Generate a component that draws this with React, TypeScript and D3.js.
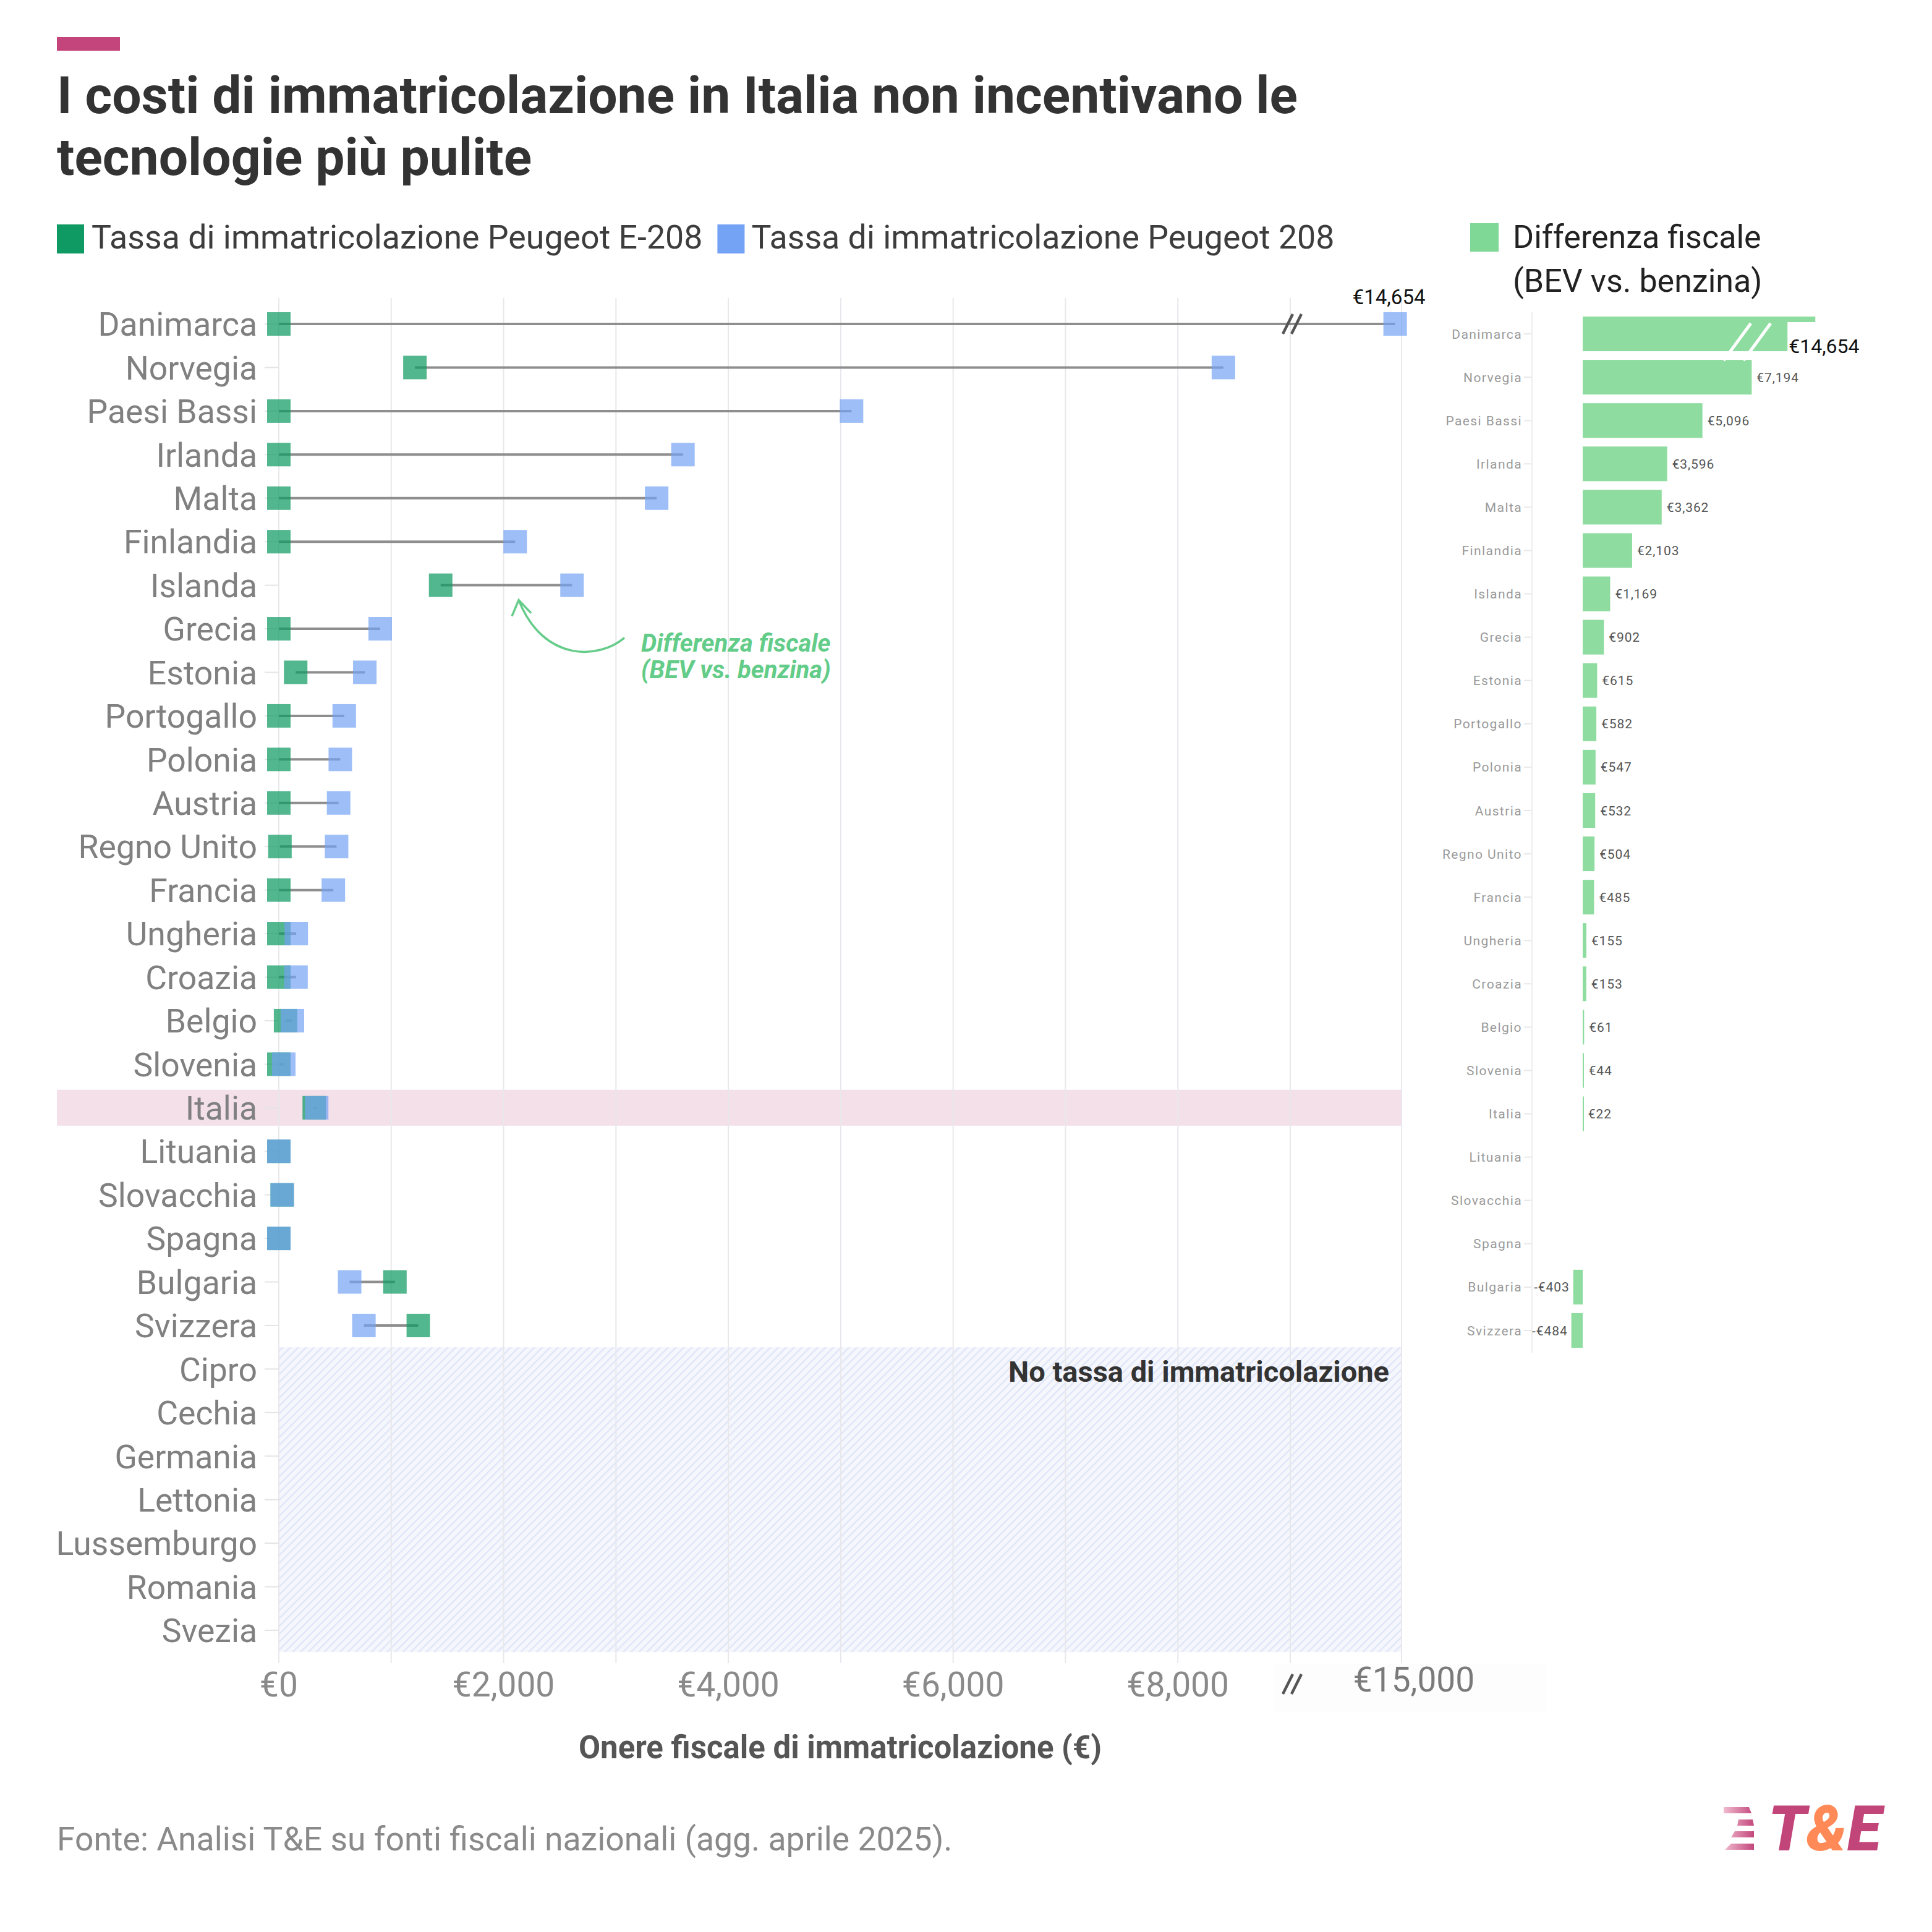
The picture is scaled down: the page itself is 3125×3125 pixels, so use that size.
import { useRef, useEffect } from 'react';
import * as d3 from 'd3';

// rows of the dumbbell chart, top to bottom
const countries = [
  'Danimarca', 'Norvegia', 'Paesi Bassi', 'Irlanda', 'Malta', 'Finlandia', 'Islanda',
  'Grecia', 'Estonia', 'Portogallo', 'Polonia', 'Austria', 'Regno Unito', 'Francia',
  'Ungheria', 'Croazia', 'Belgio', 'Slovenia', 'Italia', 'Lituania', 'Slovacchia',
  'Spagna', 'Bulgaria', 'Svizzera', 'Cipro', 'Cechia', 'Germania', 'Lettonia',
  'Lussemburgo', 'Romania', 'Svezia',
];

// registration tax, Peugeot E-208 (null = no registration tax)
const bevTax = [
  0, 1211, 0, 0, 0, 0, 1440, 0, 150, 0, 0, 0, 10, 0, 0, 0, 60, 0, 315, 0, 30, 0, 1033, 1241,
  null, null, null, null, null, null, null,
];

// registration tax, Peugeot 208
const iceTax = [
  14654, 8405, 5096, 3596, 3362, 2103, 2609, 902, 765, 582, 547, 532, 514, 485, 155, 153, 121,
  44, 337, 0, 30, 0, 630, 757, null, null, null, null, null, null, null,
];

// right panel: fiscal difference (BEV vs petrol)
const diffCountries = countries.slice(0, 24);
const diffValues = [
  14654, 7194, 5096, 3596, 3362, 2103, 1169, 902, 615, 582, 547, 532, 504, 485, 155, 153, 61,
  44, 22, 0, 0, 0, -403, -484,
];

const xGrid = [0, 1000, 2000, 3000, 4000, 5000, 6000, 7000, 8000, 9000, 15000];
const xTicks = [0, 2000, 4000, 6000, 8000, 15000];

const FONT = 'Roboto, sans-serif';
const GREEN = '#0f9a63';
const BLUE = '#74a2f4';
const DIFF = '#8fdca0';

export default function App() {
  const svgRef = useRef<SVGSVGElement>(null);

  useEffect(() => {
    if (!svgRef.current) return;
    const svg = d3.select(svgRef.current);
    svg.selectAll('*').remove();

    svg.append('rect').attr('width', 3125).attr('height', 3125).attr('fill', '#fff');

    const defs = svg.append('defs');
    const hatch = defs
      .append('pattern')
      .attr('id', 'hatch')
      .attr('patternUnits', 'userSpaceOnUse')
      .attr('width', 9)
      .attr('height', 9)
      .attr('patternTransform', 'rotate(45)');
    hatch.append('rect').attr('width', 9).attr('height', 9).attr('fill', '#f5f7fd');
    hatch
      .append('line')
      .attr('x1', 1).attr('y1', 0).attr('x2', 1).attr('y2', 9)
      .attr('stroke', '#e0e6f7').attr('stroke-width', 3);

    const grad = defs
      .append('linearGradient')
      .attr('id', 'logoGrad')
      .attr('gradientUnits', 'userSpaceOnUse')
      .attr('x1', 2786).attr('x2', 2838).attr('y1', 0).attr('y2', 0);
    grad.append('stop').attr('offset', '0%').attr('stop-color', '#f3c0d3');
    grad.append('stop').attr('offset', '100%').attr('stop-color', '#c2457a');

    // Header
    svg.append('rect').attr('x', 92).attr('y', 60).attr('width', 102).attr('height', 22).attr('fill', '#c4457b');
    const title = svg
      .append('text')
      .attr('font-family', FONT)
      .attr('font-weight', 700)
      .attr('font-size', 84)
      .attr('fill', '#333');
    title.append('tspan').attr('x', 92).attr('y', 183).text('I costi di immatricolazione in Italia non incentivano le');
    title.append('tspan').attr('x', 92).attr('y', 283).text('tecnologie più pulite');

    // Legend
    svg.append('rect').attr('x', 92).attr('y', 363).attr('width', 44).attr('height', 47).attr('fill', GREEN);
    const leg1 = svg
      .append('text')
      .attr('x', 148).attr('y', 402)
      .attr('font-family', FONT).attr('font-size', 53.7).attr('fill', '#3d3d3d')
      .text('Tassa di immatricolazione Peugeot E-208');
    const leg1End = 148 + (leg1.node() as SVGTextElement).getComputedTextLength();
    svg.append('rect').attr('x', leg1End + 24).attr('y', 363).attr('width', 44).attr('height', 47).attr('fill', BLUE);
    svg
      .append('text')
      .attr('x', leg1End + 79).attr('y', 402)
      .attr('font-family', FONT).attr('font-size', 53.7).attr('fill', '#3d3d3d')
      .text('Tassa di immatricolazione Peugeot 208');

    svg.append('rect').attr('x', 2378).attr('y', 361).attr('width', 46).attr('height', 46).attr('fill', '#7fd895');
    const leg3 = svg.append('text').attr('font-family', FONT).attr('font-size', 52).attr('fill', '#222');
    leg3.append('tspan').attr('x', 2447).attr('y', 401).text('Differenza fiscale');
    leg3.append('tspan').attr('x', 2447).attr('y', 472).text('(BEV vs. benzina)');

    // ---------- Dumbbell chart ----------
    const x = d3.scaleLinear().domain([0, 9000, 15000]).range([451, 2087, 2267]);
    const y = d3.scaleBand<string>().domain(countries).range([488.8, 2672.2]);
    const cy = (c: string) => y(c)! + y.bandwidth() / 2;
    const rows = countries.map((c, i) => ({ c, bev: bevTax[i], ice: iceTax[i] }));
    const taxed = rows.filter((d) => d.bev !== null && d.ice !== null) as {
      c: string; bev: number; ice: number;
    }[];
    const untaxed = rows.filter((d) => d.bev === null);

    const g = svg.append('g');

    // Italia highlight
    g.append('rect')
      .attr('x', 92).attr('y', cy('Italia') - 29)
      .attr('width', x(15000) - 92).attr('height', 58)
      .attr('fill', '#f4e0e9');

    // No-tax hatched area
    const hatchTop = y(untaxed[0].c)!;
    g.append('rect')
      .attr('x', x(0)).attr('y', hatchTop)
      .attr('width', x(15000) - x(0)).attr('height', y.range()[1] - hatchTop)
      .attr('fill', 'url(#hatch)');

    // Grid
    g.selectAll('.grid')
      .data(xGrid)
      .enter()
      .append('line')
      .attr('x1', (d) => x(d)).attr('x2', (d) => x(d))
      .attr('y1', 482).attr('y2', 2690)
      .attr('stroke', '#e8e8ec').attr('stroke-width', 2);

    g.append('text')
      .attr('x', x(15000) - 20).attr('y', hatchTop + 56)
      .attr('text-anchor', 'end')
      .attr('font-family', FONT).attr('font-weight', 700).attr('font-size', 47).attr('fill', '#333')
      .text('No tassa di immatricolazione');

    // Y ticks + labels
    g.selectAll('.ytick')
      .data(countries)
      .enter()
      .append('line')
      .attr('x1', 428).attr('x2', x(0))
      .attr('y1', (d) => cy(d)).attr('y2', (d) => cy(d))
      .attr('stroke', '#e4e4e4').attr('stroke-width', 2);

    g.selectAll('.ylabel')
      .data(countries)
      .enter()
      .append('text')
      .attr('x', 416)
      .attr('y', (d) => cy(d))
      .attr('dy', '0.36em')
      .attr('text-anchor', 'end')
      .attr('font-family', FONT).attr('font-size', 53.5).attr('fill', '#808080')
      .text((d) => d);

    // Connectors
    g.selectAll('.conn')
      .data(taxed)
      .enter()
      .append('line')
      .attr('x1', (d) => x(d.bev)).attr('x2', (d) => x(d.ice))
      .attr('y1', (d) => cy(d.c)).attr('y2', (d) => cy(d.c))
      .attr('stroke', '#8e8e8e').attr('stroke-width', 4);

    const S = 38;
    g.selectAll('.bev')
      .data(taxed)
      .enter()
      .append('rect')
      .attr('x', (d) => x(d.bev) - S / 2).attr('y', (d) => cy(d.c) - S / 2)
      .attr('width', S).attr('height', S)
      .attr('fill', GREEN).attr('fill-opacity', 0.72);
    g.selectAll('.ice')
      .data(taxed)
      .enter()
      .append('rect')
      .attr('x', (d) => x(d.ice) - S / 2).attr('y', (d) => cy(d.c) - S / 2)
      .attr('width', S).attr('height', S)
      .attr('fill', BLUE).attr('fill-opacity', 0.7);

    // Break marks
    const slash = (
      sel: d3.Selection<SVGGElement, unknown, null, undefined>,
      cx: number, cyy: number, color: string, w: number, dx = 8, dy = 16, gap = 7
    ) => {
      [-gap, gap].forEach((o) => {
        sel.append('line')
          .attr('x1', cx + o - dx).attr('y1', cyy + dy)
          .attr('x2', cx + o + dx).attr('y2', cyy - dy)
          .attr('stroke', color).attr('stroke-width', w);
      });
    };
    slash(g, x(9000) + 3, cy(countries[0]), '#555', 4.5);

    g.append('text')
      .attr('x', x(iceTax[0]!) - 10).attr('y', cy(countries[0]) - 32)
      .attr('text-anchor', 'middle')
      .attr('font-family', FONT).attr('font-size', 33).attr('fill', '#111')
      .text('€' + d3.format(',')(iceTax[0]!));

    // Annotation
    const isl = taxed.find((d) => d.c === 'Islanda')!;
    const tipX = x((isl.bev + isl.ice) / 2) + 20;
    const tipY = cy(isl.c) + 24;
    const ann = g.append('g').attr('stroke', '#66cc8a').attr('stroke-width', 3.5).attr('fill', 'none');
    ann.append('path').attr(
      'd',
      `M${tipX + 171},${tipY + 61} C${tipX + 130},${tipY + 96} ${tipX + 40},${tipY + 101} ${tipX},${tipY}`
    );
    ann.append('path').attr('d', `M${tipX - 11},${tipY + 26} L${tipX},${tipY} L${tipX + 20},${tipY + 21}`);
    const annT = g
      .append('text')
      .attr('font-family', FONT).attr('font-weight', 700).attr('font-style', 'italic')
      .attr('font-size', 40).attr('fill', '#62cc88');
    annT.append('tspan').attr('x', tipX + 198).attr('y', tipY + 83).text('Differenza fiscale');
    annT.append('tspan').attr('x', tipX + 198).attr('y', tipY + 126).text('(BEV vs. benzina)');

    // X axis
    g.append('rect').attr('x', 2061).attr('y', 2692).attr('width', 440).attr('height', 78).attr('fill', '#fdfdfd');
    g.selectAll('.xlabel')
      .data(xTicks)
      .enter()
      .append('text')
      .attr('x', (d) => (d === 15000 ? x(d) + 20 : x(d)))
      .attr('y', (d) => (d === 15000 ? 2736 : 2744))
      .attr('text-anchor', 'middle')
      .attr('font-family', FONT).attr('font-size', 55).attr('fill', (d) => (d === 15000 ? '#7a7a7a' : '#8a8a8a'))
      .text((d) => '€' + d3.format(',')(d));
    slash(g, x(9000) + 3, 2724, '#555', 4.5);

    g.append('text')
      .attr('x', (x(0) + x(15000)) / 2).attr('y', 2844)
      .attr('text-anchor', 'middle')
      .attr('font-family', FONT).attr('font-weight', 700).attr('font-size', 51).attr('fill', '#555')
      .text('Onere fiscale di immatricolazione (€)');

    // ---------- Difference bars ----------
    const xr = d3.scaleLinear().domain([0, 8000, 15000]).range([2560, 2864, 2940]);
    const yr = d3
      .scaleBand<string>()
      .domain(diffCountries)
      .range([505, 2187])
      .paddingInner(0.2)
      .paddingOuter(0.1);
    const rcy = (c: string) => yr(c)! + yr.bandwidth() / 2;
    const diffs = diffCountries.map((c, i) => ({ c, v: diffValues[i] }));
    const r = svg.append('g');

    r.append('line')
      .attr('x1', 2478).attr('x2', 2478).attr('y1', 504).attr('y2', 2188)
      .attr('stroke', '#eeeeee').attr('stroke-width', 2);
    r.selectAll('.rtick')
      .data(diffCountries)
      .enter()
      .append('line')
      .attr('x1', 2465).attr('x2', 2477)
      .attr('y1', (d) => rcy(d)).attr('y2', (d) => rcy(d))
      .attr('stroke', '#e8e8e8').attr('stroke-width', 2);
    r.selectAll('.rlabel')
      .data(diffCountries)
      .enter()
      .append('text')
      .attr('x', 2462).attr('y', (d) => rcy(d))
      .attr('dy', '0.36em')
      .attr('text-anchor', 'end')
      .attr('font-family', FONT).attr('font-size', 21).attr('letter-spacing', 1.4)
      .attr('fill', '#9a9a9a')
      .text((d) => d);

    r.selectAll('.bar')
      .data(diffs.filter((d) => d.v !== 0))
      .enter()
      .append('rect')
      .attr('x', (d) => Math.min(xr(0), xr(d.v)))
      .attr('y', (d) => yr(d.c)!)
      .attr('width', (d) => Math.max(2, Math.abs(xr(d.v) - xr(0))))
      .attr('height', yr.bandwidth())
      .attr('fill', DIFF);

    const fmt = (v: number) => (v < 0 ? '-€' : '€') + d3.format(',')(Math.abs(v));
    r.selectAll('.val')
      .data(diffs.filter((d, i) => d.v !== 0 && i > 0))
      .enter()
      .append('text')
      .attr('x', (d) => (d.v > 0 ? xr(d.v) + 8 : xr(d.v) - 6))
      .attr('y', (d) => rcy(d.c))
      .attr('dy', '0.36em')
      .attr('text-anchor', (d) => (d.v > 0 ? 'start' : 'end'))
      .attr('font-family', FONT).attr('font-size', 21).attr('letter-spacing', 0.9)
      .attr('fill', '#555')
      .text((d) => fmt(d.v));

    // Danimarca: broken bar + big label
    const top = diffs[0];
    const tx = xr(top.v) - 45;
    slash(r, xr(7000), rcy(top.c) + 13, '#fff', 5, 22, 30, 16);
    r.append('rect')
      .attr('x', tx).attr('y', yr(top.c)! + 9)
      .attr('width', 135).attr('height', 60)
      .attr('fill', '#fff');
    r.append('text')
      .attr('x', tx + 2).attr('y', rcy(top.c) + 31)
      .attr('font-family', FONT).attr('font-size', 32).attr('fill', '#111')
      .text(fmt(top.v));

    // Footer
    svg.append('text')
      .attr('x', 92).attr('y', 2993)
      .attr('font-family', FONT).attr('font-size', 53.5).attr('fill', '#8a8a8a')
      .text('Fonte: Analisi T&E su fonti fiscali nazionali (agg. aprile 2025).');

    const stripes = [
      [[2788, 2923], [2829, 2923], [2833, 2933], [2788, 2933]],
      [[2812, 2943], [2835, 2943], [2837, 2953], [2810, 2953]],
      [[2806, 2962], [2837, 2962], [2837, 2972], [2800, 2972]],
      [[2800, 2982], [2837, 2982], [2837, 2992], [2790, 2992]],
    ];
    svg.selectAll('.stripe')
      .data(stripes)
      .enter()
      .append('path')
      .attr('d', (d) => 'M' + d.map((p) => p.join(',')).join('L') + 'Z')
      .attr('fill', 'url(#logoGrad)');
    const logo = svg
      .append('text')
      .attr('x', 2860).attr('y', 2993)
      .attr('font-family', FONT).attr('font-weight', 900).attr('font-style', 'italic')
      .attr('font-size', 101);
    logo.append('tspan').attr('fill', '#c2457a').text('T');
    logo.append('tspan').attr('fill', '#ff8a57').text('&');
    logo.append('tspan').attr('fill', '#c2457a').text('E');
  }, []);

  return (
    <svg
      ref={svgRef}
      width={3125}
      height={3125}
      style={{ position: 'absolute', left: 0, top: 0, display: 'block' }}
    />
  );
}
